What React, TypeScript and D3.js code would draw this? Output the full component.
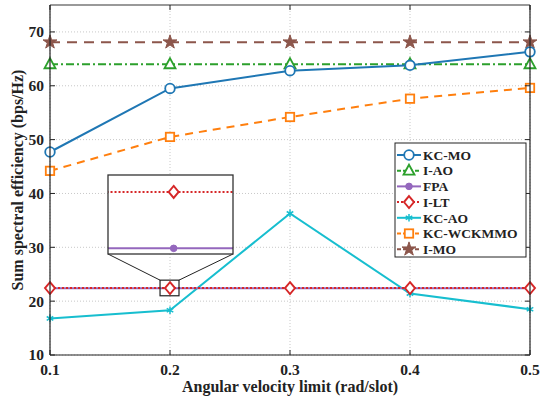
import React from 'react';
import * as d3 from 'd3';

const xValues = [0.1, 0.2, 0.3, 0.4, 0.5];
const xTicks = [0.1, 0.2, 0.3, 0.4, 0.5];
const yTicks = [10, 20, 30, 40, 50, 60, 70];

const kcMo = [47.7, 59.5, 62.8, 63.8, 66.3];
const iAo = [64.0, 64.0, 64.0, 64.0, 64.0];
const fpa = [22.38, 22.38, 22.38, 22.38, 22.38];
const iLt = [22.42, 22.42, 22.42, 22.42, 22.42];
const kcAo = [16.8, 18.3, 36.3, 21.4, 18.5];
const kcWckmmo = [44.2, 50.5, 54.2, 57.6, 59.6];
const iMo = [68.1, 68.1, 68.1, 68.1, 68.1];

type Series = {
  name: string;
  values: number[];
  color: string;
  dash: string;
  marker: string;
  filled: boolean;
};

const series: Series[] = [
  { name: 'KC-MO', values: kcMo, color: '#1f77b4', dash: 'none', marker: 'circle', filled: false },
  { name: 'I-AO', values: iAo, color: '#2ca02c', dash: '8,3,2,3', marker: 'triangle', filled: false },
  { name: 'FPA', values: fpa, color: '#9467bd', dash: 'none', marker: 'dot', filled: true },
  { name: 'I-LT', values: iLt, color: '#d62728', dash: '2,2', marker: 'diamond', filled: false },
  { name: 'KC-AO', values: kcAo, color: '#17becf', dash: 'none', marker: 'asterisk', filled: false },
  { name: 'KC-WCKMMO', values: kcWckmmo, color: '#ff7f0e', dash: '8,6', marker: 'square', filled: false },
  { name: 'I-MO', values: iMo, color: '#8c564b', dash: '10,7', marker: 'star', filled: true },
];

// draw order (later on top)
const drawOrder = ['KC-WCKMMO', 'I-MO', 'I-AO', 'KC-MO', 'KC-AO', 'FPA', 'I-LT'];

const W = 543;
const H = 401;
const left = 50;
const right = 530;
const top = 5;
const bottom = 355;

const font = '"Liberation Serif", "Times New Roman", serif';

const Marker = ({ kind, x, y, color }: { kind: string; x: number; y: number; color: string }) => {
  const t = `translate(${x},${y})`;
  if (kind === 'circle')
    return <circle cx={x} cy={y} r={4.8} fill="white" stroke={color} strokeWidth={1.8} />;
  if (kind === 'dot') return <circle cx={x} cy={y} r={3.3} fill={color} stroke={color} strokeWidth={1} />;
  if (kind === 'square')
    return <rect x={x - 4.2} y={y - 4.2} width={8.4} height={8.4} fill="white" stroke={color} strokeWidth={1.8} />;
  if (kind === 'diamond')
    return (
      <path transform={t} d="M0,-6L5,0L0,6L-5,0Z" fill="white" stroke={color} strokeWidth={1.9} />
    );
  if (kind === 'triangle')
    return (
      <path transform={t} d="M0,-6L5.5,4L-5.5,4Z" fill="white" stroke={color} strokeWidth={1.8} />
    );
  if (kind === 'star') {
    const p = d3.symbol(d3.symbolStar, 60)();
    return <path transform={t} d={p || ''} fill={color} stroke={color} strokeWidth={1} />;
  }
  if (kind === 'asterisk') {
    const sym = (d3 as any).symbolAsterisk || d3.symbolCross;
    const p = d3.symbol(sym, 40)();
    return <path transform={t} d={p || ''} fill="none" stroke={color} strokeWidth={1.5} />;
  }
  return null;
};

const App = () => {
  const x = d3.scaleLinear().domain([0.1, 0.5]).range([left, right]);
  const y = d3.scaleLinear().domain([10, 75]).range([bottom, top]);

  // inset zoom
  const insetBox = { x0: 108, x1: 233, y0: 175, y1: 254 };
  const zoomX = [0.1917, 0.2075];
  const zoomY = [21.0, 23.9];
  const ix = d3.scaleLinear().domain([0.1917, 0.2075]).range([insetBox.x0, insetBox.x1]);
  const iy = d3.scaleLinear().domain([22.376, 22.432]).range([insetBox.y1, insetBox.y0]);

  const byName = (n: string) => series.find(s => s.name === n)!;

  const line = (vals: number[], sx: any, sy: any) =>
    d3.line<number>().x((_, i) => sx(xValues[i])).y(d => sy(d))(vals) || '';

  const rx0 = x(zoomX[0]);
  const rx1 = x(zoomX[1]);
  const ry0 = y(zoomY[1]);
  const ry1 = y(zoomY[0]);

  return (
    <svg width={W} height={H} style={{ position: 'absolute', left: 0, top: 0, background: 'white' }}>
      <rect x={0} y={0} width={W} height={H} fill="white" />
      {/* grid */}
      {yTicks.map(t => (
        <line key={'gy' + t} x1={left} x2={right} y1={y(t)} y2={y(t)} stroke="#c8c8c8" strokeWidth={1} strokeDasharray="1,2" />
      ))}
      {xTicks.map(t => (
        <line key={'gx' + t} x1={x(t)} x2={x(t)} y1={top} y2={bottom} stroke="#c8c8c8" strokeWidth={1} strokeDasharray="1,2" />
      ))}

      {/* series */}
      <g clipPath="url(#plotclip)">
        {drawOrder.map(n => {
          const s = byName(n);
          return (
            <g key={n}>
              <path d={line(s.values, x, y)} fill="none" stroke={s.color} strokeWidth={2} strokeDasharray={s.dash} />
            </g>
          );
        })}
      </g>
      {drawOrder.map(n => {
        const s = byName(n);
        return (
          <g key={'m' + n}>
            {s.values.map((v, i) => (
              <Marker key={i} kind={s.marker} x={x(xValues[i])} y={y(v)} color={s.color} />
            ))}
          </g>
        );
      })}

      {/* zoom rectangle and connectors */}
      <rect x={rx0} y={ry0} width={rx1 - rx0} height={ry1 - ry0} fill="none" stroke="#222" strokeWidth={1.2} />
      <line x1={insetBox.x0} y1={insetBox.y1} x2={rx0} y2={ry0} stroke="#222" strokeWidth={1} />
      <line x1={insetBox.x1} y1={insetBox.y1} x2={rx1} y2={ry0} stroke="#222" strokeWidth={1} />

      {/* inset */}
      <defs>
        <clipPath id="insetclip">
          <rect x={insetBox.x0} y={insetBox.y0} width={insetBox.x1 - insetBox.x0} height={insetBox.y1 - insetBox.y0} />
        </clipPath>
        <clipPath id="plotclip">
          <rect x={left} y={top} width={right - left} height={bottom - top} />
        </clipPath>
      </defs>
      <rect x={insetBox.x0} y={insetBox.y0} width={insetBox.x1 - insetBox.x0} height={insetBox.y1 - insetBox.y0} fill="white" />
      <g clipPath="url(#insetclip)">
        {['FPA', 'I-LT'].map(n => {
          const s = byName(n);
          return (
            <g key={'i' + n}>
              <path d={line(s.values, ix, iy)} fill="none" stroke={s.color} strokeWidth={2} strokeDasharray={s.dash} />
              {s.values.map((v, i) => (
                <Marker key={i} kind={s.marker} x={ix(xValues[i])} y={iy(v)} color={s.color} />
              ))}
            </g>
          );
        })}
      </g>
      <rect x={insetBox.x0} y={insetBox.y0} width={insetBox.x1 - insetBox.x0} height={insetBox.y1 - insetBox.y0} fill="none" stroke="#333" strokeWidth={1.3} />

      {/* axes box */}
      <line x1={left} x2={right} y1={top} y2={top} stroke="#777" strokeWidth={1.5} />
      <line x1={right} x2={right} y1={top} y2={bottom} stroke="#222" strokeWidth={1.2} />
      <line x1={left} x2={left} y1={top} y2={bottom} stroke="#222" strokeWidth={1.2} />
      <line x1={left} x2={right} y1={bottom} y2={bottom} stroke="#222" strokeWidth={1.2} />
      {yTicks.map(t => (
        <g key={'ty' + t}>
          <line x1={left} x2={left + 5} y1={y(t)} y2={y(t)} stroke="#222" />
          <line x1={right} x2={right - 5} y1={y(t)} y2={y(t)} stroke="#222" />
          <text x={left - 6} y={y(t)} dy="0.35em" textAnchor="end" fontFamily={font} fontWeight="bold" fontSize={15.5} fill="#222">
            {t}
          </text>
        </g>
      ))}
      {xTicks.map(t => (
        <g key={'tx' + t}>
          <line x1={x(t)} x2={x(t)} y1={bottom} y2={bottom - 5} stroke="#222" />
          <line x1={x(t)} x2={x(t)} y1={top} y2={top + 5} stroke="#222" />
          <text x={x(t)} y={bottom + 20} textAnchor="middle" fontFamily={font} fontWeight="bold" fontSize={15.5} fill="#222">
            {d3.format('.1f')(t)}
          </text>
        </g>
      ))}
      <text x={(left + right) / 2} y={392} textAnchor="middle" fontFamily={font} fontWeight="bold" fontSize={16} fill="#222">
        Angular velocity limit (rad/slot)
      </text>
      <text transform={`translate(23,${(top + bottom) / 2}) rotate(-90)`} textAnchor="middle" fontFamily={font} fontWeight="bold" fontSize={16} fill="#222">
        Sum spectral efficiency (bps/Hz)
      </text>

      {/* legend */}
      <rect x={395} y={143} width={131} height={114} fill="white" stroke="#222" strokeWidth={1} />
      {series.map((s, i) => {
        const ly = 155 + i * 15.7;
        return (
          <g key={'l' + s.name}>
            <line x1={397} x2={421} y1={ly} y2={ly} stroke={s.color} strokeWidth={2} strokeDasharray={s.dash === 'none' ? 'none' : s.dash === '2,2' ? '2,2' : '4,2'} />
            <Marker kind={s.marker} x={409} y={ly} color={s.color} />
            <text x={423} y={ly} dy="0.35em" fontFamily={font} fontWeight="bold" fontSize={13.5} fill="#222">
              {s.name}
            </text>
          </g>
        );
      })}
    </svg>
  );
};

export default App;
